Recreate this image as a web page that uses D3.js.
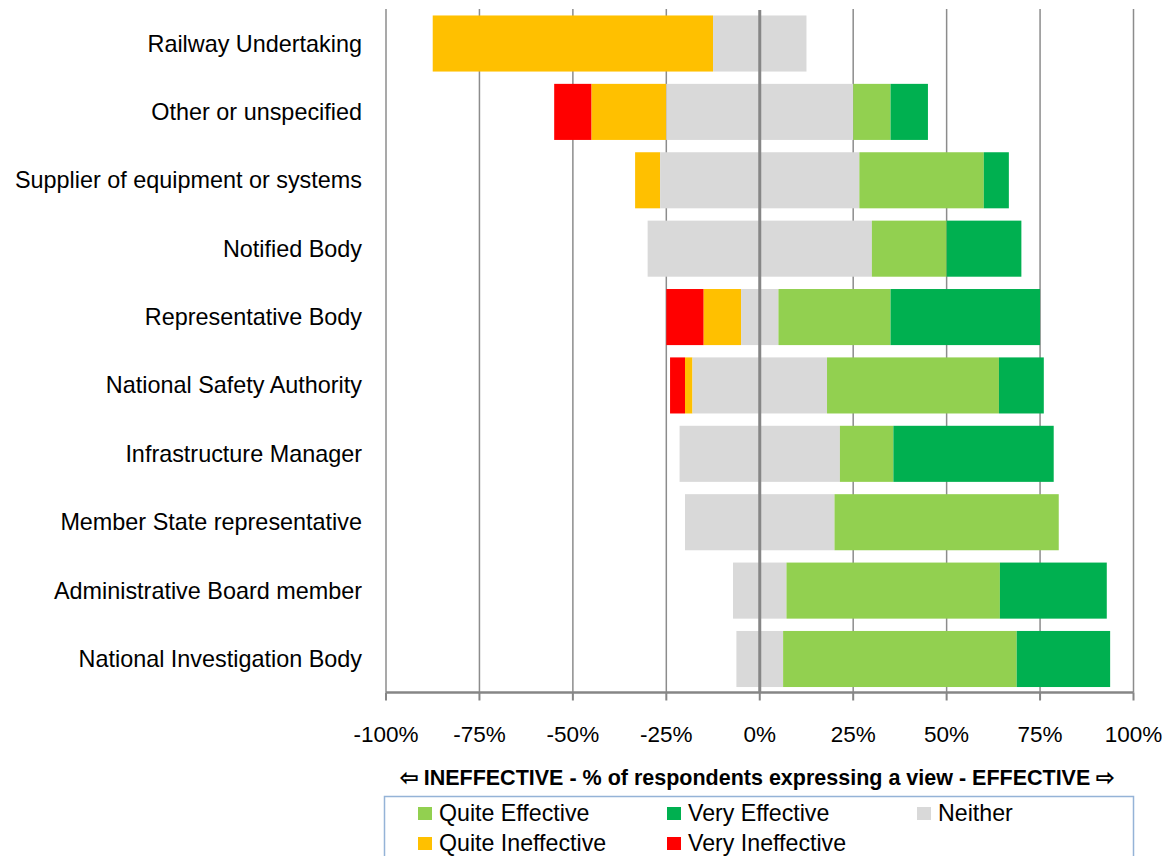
<!DOCTYPE html>
<meta charset="utf-8">
<style>
 body { margin: 0; background: #fff; }
 text { font-family: "Liberation Sans", Arial, sans-serif; fill: #000; }
 .grid line { stroke: #8c8c8c; stroke-width: 1.5px; }
 .zero { stroke: #868686; stroke-width: 3px; }
 .cat { font-size: 23.4px; }
 .tick { font-size: 22.5px; }
 .title { font-size: 21.5px; font-weight: bold; }
 .leg { font-size: 23.2px; }
</style>
<svg id="chart" width="1164" height="856"></svg>
<script src="https://cdn.jsdelivr.net/npm/d3@7"></script>
<script>

 var categories = ["Railway Undertaking", "Other or unspecified", "Supplier of equipment or systems",
                   "Notified Body", "Representative Body", "National Safety Authority",
                   "Infrastructure Manager", "Member State representative",
                   "Administrative Board member", "National Investigation Body"];

 // % of respondents
 var veryIneffective  = [0, 10, 0,    0,  10, 4,  0,    0,  0,    0];
 var quiteIneffective = [75, 20, 6.7, 0,  10, 2,  0,    0,  0,    0];
 var neither          = [25, 50, 53.3, 60, 10, 36, 42.9, 40, 14.3, 12.5];
 var quiteEffective   = [0, 10, 33.3, 20, 30, 46, 14.3, 60, 57.1, 62.5];
 var veryEffective    = [0, 10, 6.7,  20, 40, 12, 42.9, 0,  28.6, 25];

 var tickValues = [-100, -75, -50, -25, 0, 25, 50, 75, 100];

 var series = [
     {name: "Very Ineffective",  values: veryIneffective,  color: "#FF0000"},
     {name: "Quite Ineffective", values: quiteIneffective, color: "#FFC000"},
     {name: "Neither",           values: neither,          color: "#D9D9D9"},
     {name: "Quite Effective",   values: quiteEffective,   color: "#92D050"},
     {name: "Very Effective",    values: veryEffective,    color: "#00B050"}
 ];

 var svg = d3.select("#chart");

 var x = d3.scaleLinear().domain([-100, 100]).range([386, 1133.5]);
 var y = d3.scaleBand().domain(categories).range([10, 692.5]).paddingInner(0.18).paddingOuter(0.08);

 // gridlines
 svg.append("g").attr("class", "grid").selectAll("line")
    .data(tickValues.filter(function(d) { return d != 0; })).enter()
    .append("line")
    .attr("x1", function(d) { return x(d); }).attr("x2", function(d) { return x(d); })
    .attr("y1", 9).attr("y2", 692.5);

 // segments: neither is split around 0
 var rows = categories.map(function(c, i) {
     var n = neither[i] / 2;
     var segs = [];
     var left = -n - quiteIneffective[i];
     segs.push({s: 0, x0: left - veryIneffective[i], x1: left});
     segs.push({s: 1, x0: left, x1: -n});
     segs.push({s: 2, x0: -n, x1: n});
     segs.push({s: 3, x0: n, x1: n + quiteEffective[i]});
     segs.push({s: 4, x0: n + quiteEffective[i], x1: n + quiteEffective[i] + veryEffective[i]});
     return {cat: c, segs: segs.filter(function(d) { return d.x1 > d.x0; })};
 });

 var bar = svg.append("g").selectAll("g").data(rows).enter()
    .append("g").attr("transform", function(d) { return "translate(0," + y(d.cat) + ")"; });

 bar.selectAll("rect").data(function(d) { return d.segs; }).enter()
    .append("rect")
    .attr("x", function(d) { return x(d.x0); })
    .attr("width", function(d) { return x(d.x1) - x(d.x0); })
    .attr("height", y.bandwidth())
    .attr("fill", function(d) { return series[d.s].color; });

 // zero line over bars
 svg.append("line").attr("class", "zero")
    .attr("x1", x(0)).attr("x2", x(0)).attr("y1", 10).attr("y2", 692.5);

 // bottom axis
 var axis = svg.append("g").attr("transform", "translate(0,692.5)");
 axis.append("line").attr("x1", x(-100)).attr("x2", x(100))
     .attr("stroke", "#868686").attr("stroke-width", 2.5);
 axis.selectAll(".tk").data(tickValues).enter().append("line")
     .attr("x1", function(d) { return x(d); }).attr("x2", function(d) { return x(d); })
     .attr("y1", 0).attr("y2", 8).attr("stroke", "#868686").attr("stroke-width", 2);
 axis.selectAll(".tick").data(tickValues).enter().append("text")
     .attr("class", "tick")
     .attr("x", function(d) { return x(d); }).attr("y", 49.5)
     .attr("text-anchor", "middle")
     .text(function(d) { return d + "%"; });

 // category labels
 svg.append("g").selectAll("text").data(categories).enter()
    .append("text").attr("class", "cat")
    .attr("x", 362).attr("y", function(d) { return y(d) + y.bandwidth() / 2 + 8; })
    .attr("text-anchor", "end")
    .text(function(d) { return d; });

 svg.append("text").attr("class", "title")
    .attr("x", 757).attr("y", 785).attr("text-anchor", "middle")
    .text("\u21E6 INEFFECTIVE - % of respondents expressing a view - EFFECTIVE \u21E8");

 // legend
 var legend = svg.append("g");
 legend.append("rect").attr("x", 384.5).attr("y", 796.5).attr("width", 749).attr("height", 80)
       .attr("fill", "none").attr("stroke", "#95B3D7").attr("stroke-width", 1.5);

 var legendOrder = [3, 4, 2, 1, 0];
 var legendX = [418, 667, 917];
 var li = legend.selectAll(".li").data(legendOrder).enter().append("g")
       .attr("transform", function(d, i) { return "translate(" + legendX[i % 3] + "," + (807 + Math.floor(i / 3) * 30) + ")"; });
 li.append("rect").attr("width", 14).attr("height", 13)
   .attr("fill", function(d) { return series[d].color; });
 li.append("text").attr("class", "leg").attr("x", 21).attr("y", 14)
   .text(function(d) { return series[d].name; });

</script>
